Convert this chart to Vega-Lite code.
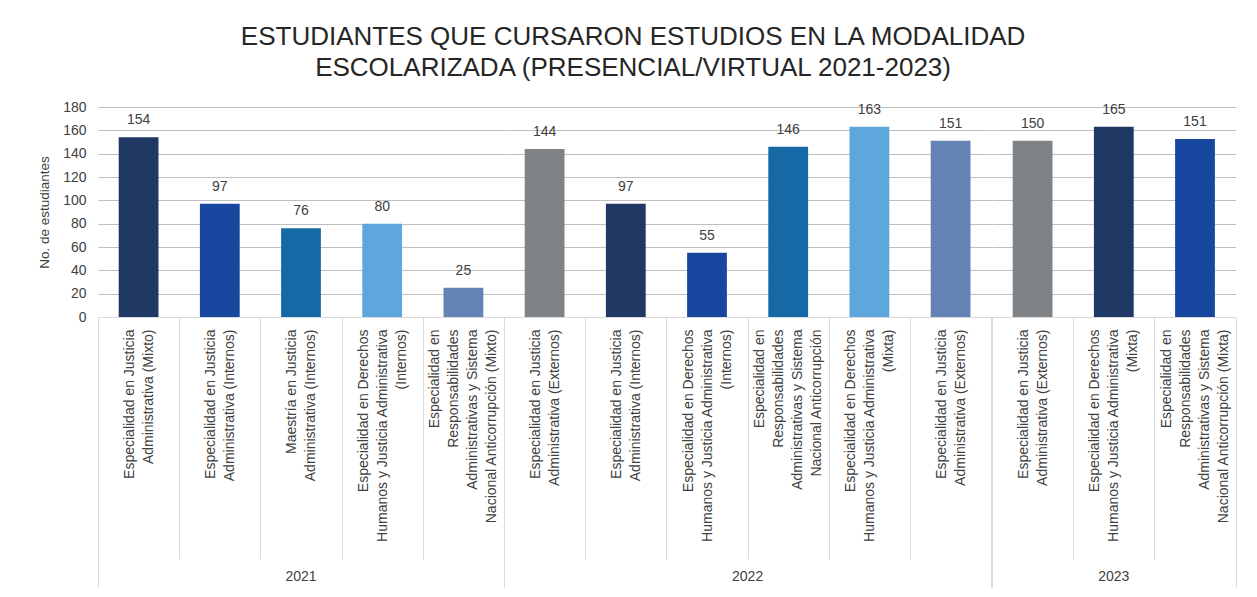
{
  "$schema": "https://vega.github.io/schema/vega-lite/v6.json",
  "padding": {"left": 37, "top": 24, "right": 22, "bottom": 0},
  "background": "white",
  "bounds": "flush",
  "title": {
    "text": ["ESTUDIANTES QUE CURSARON ESTUDIOS EN LA MODALIDAD", "ESCOLARIZADA (PRESENCIAL/VIRTUAL 2021-2023)"],
    "font": "Liberation Sans",
    "fontSize": 26,
    "fontWeight": "normal",
    "color": "#262626",
    "lineHeight": 31,
    "anchor": "middle",
    "frame": "bounds",
    "offset": 19,
    "dx": -4
  },
  "data": {
    "values": [
      {"anio": "2021", "programa": "01|Especialidad en Justicia|Administrativa (Mixto)", "estudiantes": 154, "etiqueta": 154},
      {"anio": "2021", "programa": "02|Especialidad en Justicia|Administrativa (Internos)", "estudiantes": 97, "etiqueta": 97},
      {"anio": "2021", "programa": "03|Maestría en Justicia|Administrativa (Internos)", "estudiantes": 76, "etiqueta": 76},
      {"anio": "2021", "programa": "04|Especialidad en Derechos|Humanos y Justicia Administrativa|(Internos)", "estudiantes": 80, "etiqueta": 80},
      {"anio": "2021", "programa": "05|Especialidad en|Responsabilidades|Administrativas y Sistema|Nacional Anticorrupción (Mixto)", "estudiantes": 25, "etiqueta": 25},
      {"anio": "2022", "programa": "06|Especialidad en Justicia|Administrativa (Externos)", "estudiantes": 144, "etiqueta": 144},
      {"anio": "2022", "programa": "07|Especialidad en Justicia|Administrativa (Internos)", "estudiantes": 97, "etiqueta": 97},
      {"anio": "2022", "programa": "08|Especialidad en Derechos|Humanos y Justicia Administrativa|(Internos)", "estudiantes": 55, "etiqueta": 55},
      {"anio": "2022", "programa": "09|Especialidad en|Responsabilidades|Administrativas y Sistema|Nacional Anticorrupción", "estudiantes": 146, "etiqueta": 146},
      {"anio": "2022", "programa": "10|Especialidad en Derechos|Humanos y Justicia Administrativa|(Mixta)", "estudiantes": 163, "etiqueta": 163},
      {"anio": "2022", "programa": "11|Especialidad en Justicia|Administrativa (Externos)", "estudiantes": 151, "etiqueta": 151},
      {"anio": "2023", "programa": "12|Especialidad en Justicia|Administrativa (Externos)", "estudiantes": 151, "etiqueta": 150},
      {"anio": "2023", "programa": "13|Especialidad en Derechos|Humanos y Justicia Administrativa|(Mixta)", "estudiantes": 163, "etiqueta": 165},
      {"anio": "2023", "programa": "14|Especialidad en|Responsabilidades|Administrativas y Sistema|Nacional Anticorrupción (Mixta)", "estudiantes": 152.5, "etiqueta": 151}
    ]
  },
  "facet": {
    "column": {
      "field": "anio",
      "type": "ordinal",
      "header": {
        "title": null,
        "labelOrient": "bottom",
        "labelFont": "Liberation Sans",
        "labelFontSize": 14,
        "labelColor": "#404040",
        "labelPadding": 253
      }
    }
  },
  "spacing": 0,
  "resolve": {"scale": {"x": "independent"}},
  "spec": {
    "width": {"step": 81.2},
    "height": 210,
    "encoding": {
      "x": {
        "field": "programa",
        "type": "nominal",
        "scale": {"paddingInner": 0, "paddingOuter": 0},
        "axis": {
          "title": null,
          "labelAngle": -90,
          "labelAlign": "right",
          "labelBaseline": "middle",
          "labelExpr": "slice(split(datum.value, '|'), 1)",
          "labelFont": "Liberation Sans",
          "labelFontSize": 14,
          "labelLineHeight": 19,
          "labelColor": "#404040",
          "labelLimit": 400,
          "labelOffset": {"condition": [
            {"test": "length(split(datum.value, '|')) == 3", "value": -9.5},
            {"test": "length(split(datum.value, '|')) == 4", "value": -19},
            {"test": "length(split(datum.value, '|')) == 5", "value": -28.5}
          ], "value": 0},
          "labelPadding": {"condition": {"test": "datum.extra || datum.index === 1", "value": -258}, "value": -230},
          "tickBand": "extent",
          "tickColor": "#d9d9d9",
          "tickSize": {"condition": {"test": "datum.extra || datum.index === 1", "value": 270}, "value": 242},
          "domainColor": "#d9d9d9"
        }
      },
      "y": {
        "field": "estudiantes",
        "type": "quantitative",
        "scale": {"domain": [0, 180]},
        "axis": {
          "values": [0, 20, 40, 60, 80, 100, 120, 140, 160, 180],
          "title": "No. de estudiantes",
          "titleFont": "Liberation Sans",
          "titleFontSize": 13.5,
          "titleFontWeight": "normal",
          "titleColor": "#404040",
          "titlePadding": 11,
          "labelFont": "Liberation Sans",
          "labelFontSize": 14,
          "labelColor": "#404040",
          "labelPadding": 12,
          "ticks": false,
          "domain": false,
          "gridColor": "#bfbfbf"
        }
      }
    },
    "layer": [
      {
        "mark": {"type": "bar", "width": {"band": 0.49}},
        "encoding": {
          "color": {
            "field": "programa",
            "type": "nominal",
            "legend": null,
            "scale": {"range": ["#1f3864", "#17479e", "#156aa6", "#5ea7dd", "#6482b4", "#808386", "#1f3864", "#17479e", "#156aa6", "#5ea7dd", "#6482b4", "#808386", "#1f3864", "#17479e"]}
          }
        }
      },
      {
        "mark": {"type": "text", "dy": -17, "font": "Liberation Sans", "fontSize": 14, "color": "#404040"},
        "encoding": {"text": {"field": "etiqueta", "type": "quantitative"}}
      }
    ]
  },
  "config": {"view": {"stroke": null}}
}
